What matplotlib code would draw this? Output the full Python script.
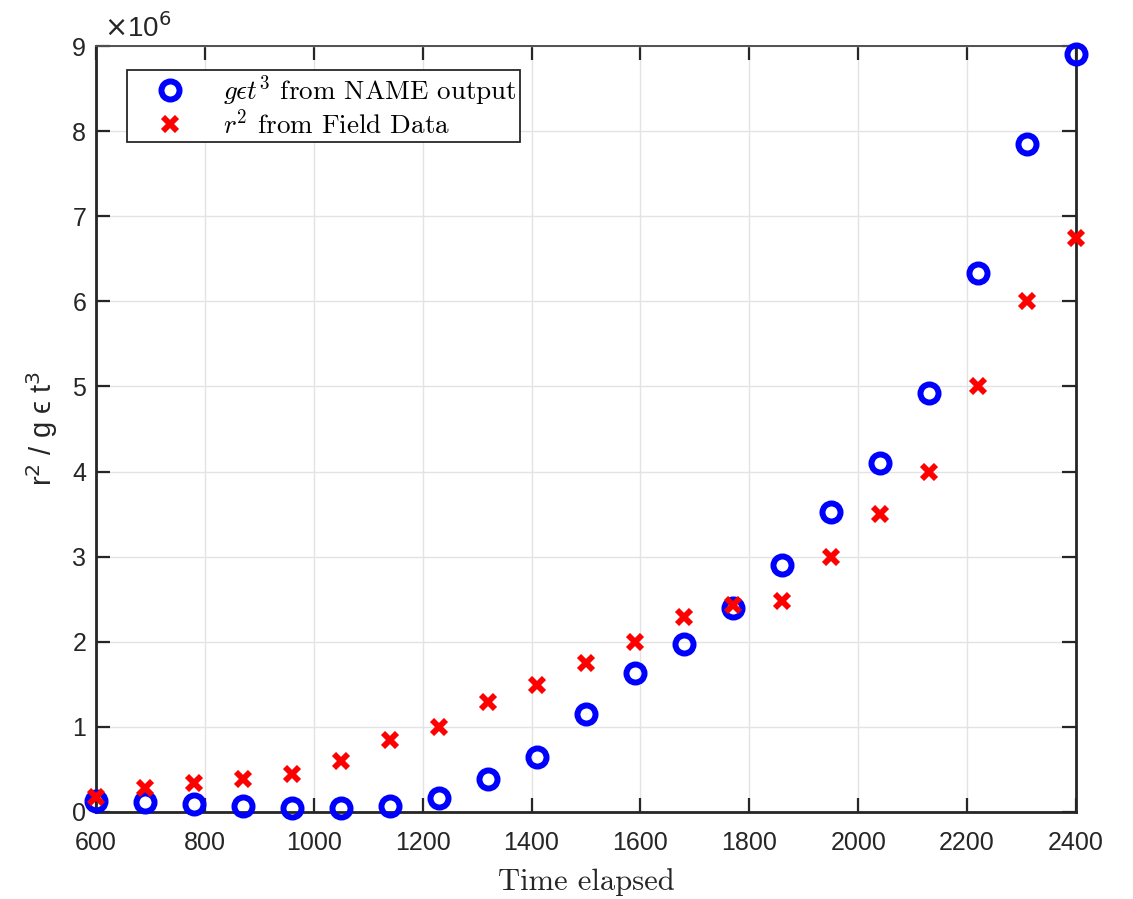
import matplotlib
matplotlib.use("Agg")
import matplotlib.pyplot as plt
import numpy as np

time = [600, 690, 780, 870, 960, 1050, 1140, 1230, 1320, 1410, 1500,
        1590, 1680, 1770, 1860, 1950, 2040, 2130, 2220, 2310, 2400]
name_output = [0.13, 0.12, 0.09, 0.07, 0.05, 0.05, 0.07, 0.16, 0.39, 0.65, 1.15,
               1.63, 1.97, 2.40, 2.90, 3.53, 4.10, 4.92, 6.33, 7.85, 8.91]
field_data = [0.18, 0.28, 0.34, 0.39, 0.45, 0.60, 0.85, 1.00, 1.29, 1.49, 1.75,
              2.00, 2.29, 2.43, 2.48, 3.00, 3.50, 4.00, 5.00, 6.00, 6.75]
scale = 1e6
xticks = [600, 800, 1000, 1200, 1400, 1600, 1800, 2000, 2200, 2400]
yticks = [0, 1, 2, 3, 4, 5, 6, 7, 8, 9]

plt.rcParams['font.family'] = ['Liberation Sans', 'DejaVu Sans']
plt.rcParams['mathtext.fontset'] = 'cm'
plt.rcParams['axes.unicode_minus'] = False

fig = plt.figure(figsize=(11.33, 8.99), dpi=100)
ax = fig.add_axes([0.0847, 0.0968, 0.8650, 0.8520])

tc = '#262626'
ax.plot(time, [v * scale for v in name_output], linestyle='none', marker='o',
        markersize=13, markerfacecolor='none', markeredgecolor='#0000ff',
        markeredgewidth=4.3, label=r'$g\epsilon t^3$ from NAME output', zorder=3,
        clip_on=False)
ax.plot(time, [v * scale for v in field_data], linestyle='none', marker='x',
        markersize=9.5, markeredgecolor='#ff0000', markeredgewidth=4.2,
        label=r'$r^2$ from Field Data', zorder=4, clip_on=False)

ax.set_xlim(600, 2400)
ax.set_ylim(0, 9 * scale)
ax.set_xticks(xticks)
ax.set_yticks([v * scale for v in yticks])
ax.set_yticklabels([str(v) for v in yticks])
ax.set_xticklabels([str(v) for v in xticks])
ax.grid(True, color='#e3e3e3', linewidth=1.0)
ax.set_axisbelow(True)
ax.tick_params(direction='in', length=10, width=1.6, labelsize=18,
               colors=tc, top=True, right=True)
ax.tick_params(axis='x', pad=14)
ax.tick_params(axis='y', pad=7)
for name, s in ax.spines.items():
    s.set_linewidth(2.0)
    s.set_color(tc)
ax.spines['top'].set_linewidth(1.4)
ax.spines['top'].set_color('#505050')

ax.text(0.008, 1.004, r'$\times$10$^6$', transform=ax.transAxes, fontsize=20,
        color=tc, ha='left', va='bottom', math_fontfamily='dejavusans')

ax.set_xlabel('Time elapsed', fontsize=22, family='cmr10', color=tc, labelpad=9)
ax.set_ylabel('r$^2$ / g \u03f5 t$^3$', fontsize=21, color=tc,
              math_fontfamily='dejavusans', labelpad=9)

leg = ax.legend(loc='upper left', bbox_to_anchor=(0.032, 0.969),
                prop={'family': 'cmr10', 'size': 19.5}, frameon=True, fancybox=False,
                edgecolor=tc, framealpha=1, handletextpad=0.5, borderpad=0.12,
                labelspacing=0.05, handlelength=2.9, borderaxespad=0)
leg.get_frame().set_linewidth(1.3)

fig.savefig('out.png', dpi=100)
